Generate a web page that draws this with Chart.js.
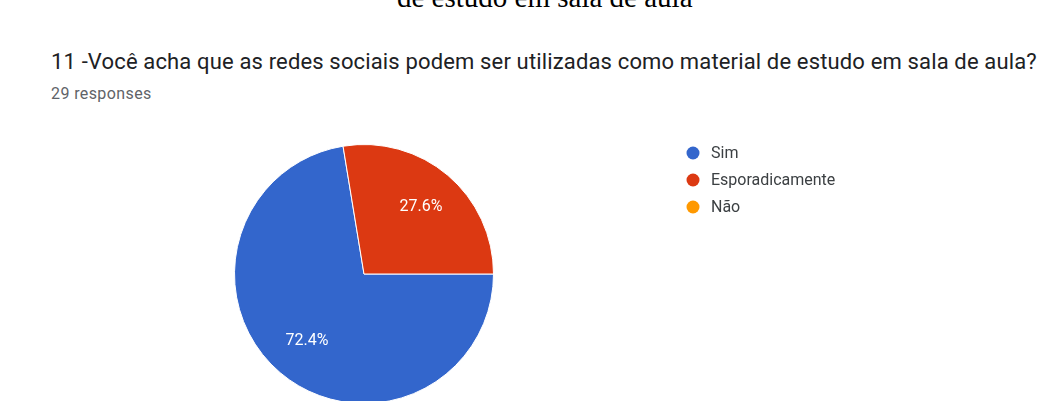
<!DOCTYPE html>
<html>
<head>
<meta charset="utf-8">
<script src="https://cdn.jsdelivr.net/npm/chart.js@4/dist/chart.umd.min.js"></script>
<style>
  html, body { margin: 0; padding: 0; background: #fff; overflow: hidden; width: 1046px; height: 401px; }
  #wrap { position: absolute; left: 0; top: 0; width: 1046px; height: 420px; }
  .txt { position: absolute; white-space: nowrap; line-height: 1; }
  #topo { left: 397px; top: -19px; font: 29px "Liberation Serif", serif; color: #000; }
  #titulo { left: 51px; top: 48.5px; font: 22px Roboto, sans-serif; letter-spacing: 0.15px; color: #202124; }
  #sub { left: 51px; top: 83.5px; font: 16px Roboto, sans-serif; letter-spacing: 0.4px; color: #5f6368; }
</style>
</head>
<body>
<div class="txt" id="topo">de estudo em sala de aula</div>
<div class="txt" id="titulo">11 -Você acha que as redes sociais podem ser utilizadas como material de estudo em sala de aula?</div>
<div class="txt" id="sub">29 responses</div>
<div id="wrap"><canvas id="graficoPizza"></canvas></div>
<script>
// dados
const categorias = ["Sim", "Esporadicamente", "Não"]
const respostas = [21, 8, 0]
const cores = ["#3366cc", "#dc3912", "#ff9900"]

// legenda desenhada a mao, igual ao google forms
const legendaPlugin = {
  id: "legendaForms",
  afterDraw(chart) {
    const ctx = chart.ctx
    ctx.save()
    ctx.font = "16px Roboto, sans-serif"
    ctx.textBaseline = "middle"
    chart.data.labels.forEach((rotulo, i) => {
      const y = 153 + i * 27
      ctx.fillStyle = chart.data.datasets[0].backgroundColor[i]
      ctx.beginPath()
      ctx.arc(693, y, 6.5, 0, Math.PI * 2)
      ctx.fill()
      ctx.fillStyle = "#3c4043"
      ctx.fillText(rotulo, 711, y + 1)
    })
    ctx.restore()
  }
}

// porcentagens dentro das fatias
const porcentagemPlugin = {
  id: "porcentagem",
  afterDatasetsDraw(chart) {
    const ctx = chart.ctx
    const meta = chart.getDatasetMeta(0)
    const dados = chart.data.datasets[0].data
    const total = dados.reduce((a, b) => a + b, 0)
    ctx.save()
    ctx.font = "16px Roboto, sans-serif"
    ctx.fillStyle = "#fff"
    ctx.textAlign = "center"
    ctx.textBaseline = "middle"
    meta.data.forEach((arco, i) => {
      if (!dados[i]) return
      const {x, y, startAngle, endAngle, outerRadius} = arco.getProps(["x", "y", "startAngle", "endAngle", "outerRadius"], true)
      const meio = (startAngle + endAngle) / 2
      const r = outerRadius * 0.68
      const texto = (dados[i] / total * 100).toFixed(1) + "%"
      ctx.fillText(texto, x + Math.cos(meio) * r, y + Math.sin(meio) * r)
    })
    ctx.restore()
  }
}

new Chart(document.getElementById("graficoPizza"), {
  type: "pie",
  data: {
    labels: categorias,
    datasets: [{
      data: respostas,
      backgroundColor: cores,
      borderColor: "#ffffff",
      borderWidth: 1
    }]
  },
  options: {
    responsive: true,
    maintainAspectRatio: false,
    animation: false,
    rotation: 90,
    layout: { padding: { left: 234, right: 552, top: 144, bottom: 16 } },
    plugins: {
      legend: { display: false },
      tooltip: { enabled: false }
    }
  },
  plugins: [legendaPlugin, porcentagemPlugin]
})
</script>
</body>
</html>
